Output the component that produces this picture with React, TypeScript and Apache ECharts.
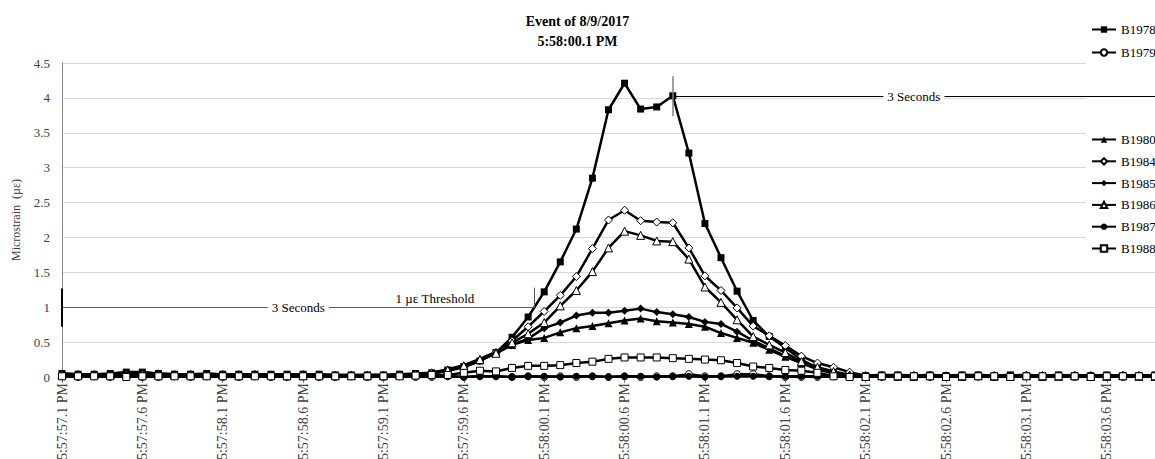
import React, { useEffect, useRef } from 'react';
import * as echarts from 'echarts';

// x positions are sample indices (0.1 s per sample) starting at 5:57:57.1 PM
const tickLabels = [
  '5:57:57.1 PM', '5:57:57.6 PM', '5:57:58.1 PM', '5:57:58.6 PM', '5:57:59.1 PM',
  '5:57:59.6 PM', '5:58:00.1 PM', '5:58:00.6 PM', '5:58:01.1 PM', '5:58:01.6 PM',
  '5:58:02.1 PM', '5:58:02.6 PM', '5:58:03.1 PM', '5:58:03.6 PM',
];
const samplesPerLabel = 5;

const b1978 = [
  0.05, 0.04, 0.04, 0.05, 0.07, 0.07, 0.05, 0.04, 0.04, 0.05, 0.04, 0.04, 0.04, 0.04, 0.04, 0.04, 0.04, 0.03, 0.03, 0.03, 0.03, 0.04, 0.05,
  0.06, 0.10, 0.15, 0.23, 0.35, 0.57, 0.86, 1.22, 1.65, 2.12, 2.85, 3.83, 4.21, 3.84, 3.87, 4.03, 3.21, 2.20, 1.71, 1.23, 0.81, 0.58, 0.42, 0.25, 0.13, 0.06, 0.03,
  0.02, 0.03, 0.03, 0.02, 0.03, 0.02, 0.03, 0.03, 0.02, 0.03, 0.02, 0.02, 0.03, 0.02, 0.02, 0.03, 0.02, 0.02, 0.03,
];
const b1979 = [
  0.01, 0.00, 0.01, 0.00, 0.01, 0.00, 0.00, 0.01, 0.00, 0.01, 0.00, 0.00, 0.01, 0.00, 0.00, 0.01, 0.00, 0.00, 0.01, 0.00, 0.00, 0.01, 0.00,
  0.00, 0.01, 0.00, 0.01, 0.01, 0.00, 0.01, 0.00, 0.01, 0.00, 0.01, 0.00, 0.01, 0.00, 0.01, 0.01, 0.04, 0.01, 0.01, 0.04, 0.04, 0.01, 0.00, 0.00, 0.00, 0.01, 0.00,
  0.01, 0.00, 0.01, 0.00, 0.00, 0.01, 0.00, 0.01, 0.00, 0.00, 0.01, 0.00, 0.01, 0.00, 0.00, 0.01, 0.00, 0.01, 0.00,
];
const b1980 = [
  0.04, 0.04, 0.03, 0.04, 0.05, 0.05, 0.04, 0.03, 0.04, 0.04, 0.03, 0.03, 0.04, 0.03, 0.03, 0.03, 0.03, 0.03, 0.02, 0.03, 0.03, 0.03, 0.04,
  0.06, 0.11, 0.17, 0.26, 0.36, 0.46, 0.53, 0.56, 0.64, 0.70, 0.73, 0.77, 0.81, 0.84, 0.80, 0.78, 0.76, 0.72, 0.63, 0.56, 0.49, 0.39, 0.29, 0.20, 0.12, 0.06, 0.03,
  0.02, 0.02, 0.03, 0.02, 0.02, 0.02, 0.03, 0.02, 0.02, 0.02, 0.03, 0.02, 0.02, 0.02, 0.03, 0.02, 0.02, 0.03, 0.02,
];
const b1984 = [
  0.03, 0.03, 0.03, 0.03, 0.04, 0.04, 0.03, 0.03, 0.03, 0.03, 0.03, 0.03, 0.03, 0.02, 0.03, 0.03, 0.02, 0.02, 0.02, 0.02, 0.02, 0.03, 0.03,
  0.05, 0.09, 0.14, 0.23, 0.35, 0.52, 0.72, 0.94, 1.17, 1.44, 1.84, 2.25, 2.39, 2.24, 2.22, 2.21, 1.85, 1.45, 1.24, 0.99, 0.73, 0.59, 0.45, 0.30, 0.20, 0.14, 0.07,
  0.02, 0.02, 0.01, 0.02, 0.02, 0.01, 0.02, 0.02, 0.02, 0.01, 0.02, 0.02, 0.01, 0.02, 0.02, 0.01, 0.02, 0.02, 0.01,
];
const b1985 = [
  0.05, 0.04, 0.04, 0.04, 0.06, 0.06, 0.05, 0.04, 0.04, 0.04, 0.04, 0.04, 0.04, 0.03, 0.03, 0.04, 0.03, 0.03, 0.03, 0.03, 0.03, 0.03, 0.04,
  0.05, 0.09, 0.15, 0.24, 0.34, 0.46, 0.55, 0.70, 0.78, 0.88, 0.92, 0.92, 0.95, 0.98, 0.93, 0.90, 0.86, 0.79, 0.76, 0.65, 0.52, 0.41, 0.30, 0.20, 0.11, 0.05, 0.03,
  0.02, 0.03, 0.02, 0.02, 0.03, 0.02, 0.02, 0.03, 0.02, 0.02, 0.03, 0.02, 0.02, 0.03, 0.02, 0.02, 0.03, 0.02, 0.02,
];
const b1986 = [
  0.03, 0.03, 0.03, 0.03, 0.04, 0.04, 0.03, 0.03, 0.03, 0.03, 0.03, 0.02, 0.03, 0.03, 0.02, 0.02, 0.03, 0.02, 0.02, 0.02, 0.02, 0.03, 0.04,
  0.06, 0.10, 0.16, 0.25, 0.34, 0.49, 0.62, 0.78, 1.02, 1.24, 1.51, 1.85, 2.09, 2.03, 1.95, 1.94, 1.69, 1.29, 1.07, 0.82, 0.58, 0.46, 0.35, 0.22, 0.14, 0.08, 0.03,
  0.01, 0.02, 0.01, 0.01, 0.02, 0.01, 0.01, 0.02, 0.01, 0.01, 0.02, 0.01, 0.01, 0.02, 0.01, 0.01, 0.02, 0.01, 0.01,
];
const b1987 = [
  0.02, 0.01, 0.01, 0.01, 0.02, 0.01, 0.01, 0.01, 0.01, 0.02, 0.01, 0.01, 0.01, 0.01, 0.01, 0.01, 0.01, 0.01, 0.01, 0.01, 0.01, 0.01, 0.01,
  0.01, 0.01, 0.00, 0.01, 0.01, 0.00, 0.01, 0.01, 0.00, 0.01, 0.01, 0.00, 0.01, 0.01, 0.00, 0.01, 0.01, 0.00, 0.01, 0.01, 0.01, 0.01, 0.01, 0.01, 0.01, 0.01, 0.01,
  0.01, 0.01, 0.01, 0.00, 0.01, 0.01, 0.01, 0.00, 0.01, 0.01, 0.01, 0.00, 0.01, 0.01, 0.01, 0.00, 0.01, 0.01, 0.01,
];
const b1988 = [
  0.01, 0.01, 0.01, 0.01, 0.00, 0.01, 0.01, 0.01, 0.01, 0.01, 0.01, 0.01, 0.01, 0.01, 0.01, 0.01, 0.01, 0.01, 0.01, 0.01, 0.01, 0.01, 0.02,
  0.03, 0.03, 0.06, 0.09, 0.08, 0.13, 0.16, 0.16, 0.17, 0.20, 0.22, 0.26, 0.28, 0.28, 0.28, 0.27, 0.26, 0.25, 0.24, 0.20, 0.15, 0.13, 0.10, 0.09, 0.06, 0.01, 0.00,
  0.00, 0.01, 0.01, 0.01, 0.01, 0.00, 0.01, 0.01, 0.01, 0.00, 0.01, 0.01, 0.01, 0.01, 0.00, 0.01, 0.01, 0.01, 0.01,
];

const seriesNames = ['B1978', 'B1979', 'B1980', 'B1984', 'B1985', 'B1986', 'B1987', 'B1988'];
const seriesValues = [b1978, b1979, b1980, b1984, b1985, b1986, b1987, b1988];
const seriesSymbols = ['rect', 'circle', 'triangle', 'diamond', 'diamond', 'triangle', 'circle', 'rect'];
const seriesHollow = [false, true, false, true, false, true, false, true];

// annotation positions (sample index, microstrain)
const thresholdValue = 1;
const lowerWindow = [0, 29.4];
const upperWindow = [38, 68];
const upperLineValue = 4.02;
const thresholdLabelPos = [23.2, 1.13];

const FONT = "'Liberation Serif', 'Times New Roman', serif";

export default function App() {
  const ref = useRef<HTMLDivElement>(null);

  useEffect(() => {
    if (!ref.current) return;
    const chart = echarts.init(ref.current, undefined, { renderer: 'svg' });
    const lastIndex = b1978.length - 1;
    const tickValues = tickLabels.map((_, i) => i * samplesPerLabel);

    const dataSeries = seriesNames.map((name, i) => ({
      name,
      type: 'line',
      data: seriesValues[i].map((v, k) => [k, v]),
      symbol: seriesSymbols[i],
      symbolSize: seriesSymbols[i] === 'rect' || seriesSymbols[i] === 'circle' ? 7 : 8,
      showAllSymbol: true,
      lineStyle: { color: '#000', width: 2.5 },
      itemStyle: seriesHollow[i]
        ? { color: '#fff', borderColor: '#000', borderWidth: 1 }
        : { color: '#000', borderColor: '#000', borderWidth: 0 },
      emphasis: { disabled: true },
      silent: true,
      z: 2 + i * 0.01,
    }));

    const labelStyle = {
      show: true,
      position: 'insideMiddle',
      formatter: '3 Seconds',
      backgroundColor: '#fff',
      padding: [0, 4],
      color: '#000',
      fontFamily: FONT,
      fontSize: 13,
    };

    const annotations = {
      name: '__annotations',
      type: 'line',
      data: [],
      silent: true,
      markLine: {
        silent: true,
        symbol: ['none', 'none'],
        label: { show: false },
        emphasis: { disabled: true },
        data: [
          [
            { coord: [lowerWindow[0], thresholdValue], lineStyle: { color: '#595959', width: 1, type: 'solid' }, label: labelStyle },
            { coord: [lowerWindow[1], thresholdValue] },
          ],
          [
            { coord: [lowerWindow[0], 0.72], lineStyle: { color: '#000', width: 2, type: 'solid' } },
            { coord: [lowerWindow[0], 1.27] },
          ],
          [
            { coord: [lowerWindow[1], thresholdValue], lineStyle: { color: '#595959', width: 1, type: 'solid' } },
            { coord: [lowerWindow[1], 1.28] },
          ],
          [
            { coord: [upperWindow[0], upperLineValue], lineStyle: { color: '#000', width: 1, type: 'solid' }, label: labelStyle },
            { coord: [upperWindow[1], upperLineValue] },
          ],
          [
            { coord: [upperWindow[0], 3.74], lineStyle: { color: '#808080', width: 1.5, type: 'solid' } },
            { coord: [upperWindow[0], 4.31] },
          ],
        ],
      },
      markPoint: {
        silent: true,
        symbol: 'rect',
        symbolSize: 1,
        itemStyle: { color: 'rgba(0,0,0,0)' },
        label: {
          show: true,
          position: 'inside',
          formatter: '1 µε Threshold',
          color: '#000',
          fontFamily: FONT,
          fontSize: 13,
        },
        data: [{ coord: thresholdLabelPos }],
      },
    };

    const legendCommon = {
      orient: 'vertical',
      left: 1086,
      itemWidth: 24,
      itemHeight: 8,
      backgroundColor: '#fff',
      textStyle: { fontFamily: FONT, fontSize: 13, color: '#000' },
      selectedMode: false,
    };

    chart.setOption({
      animation: false,
      backgroundColor: '#fff',
      title: {
        text: 'Event of 8/9/2017\n5:58:00.1 PM',
        left: 'center',
        top: 6,
        textStyle: { fontFamily: FONT, fontSize: 14, fontWeight: 'bold', color: '#000', lineHeight: 20 },
      },
      legend: [
        { ...legendCommon, top: 13, padding: [10, 2, 40, 5], itemGap: 10, data: seriesNames.slice(0, 2) },
        { ...legendCommon, top: 97, padding: [36, 2, 12, 5], itemGap: 8.8, data: seriesNames.slice(2) },
      ],
      grid: { left: 62, right: 0, top: 63, bottom: 82, containLabel: false, outerBoundsMode: 'none' },
      xAxis: {
        type: 'value',
        min: 0,
        max: lastIndex,
        interval: samplesPerLabel,
        splitLine: { show: false },
        axisLine: { show: true, lineStyle: { color: '#868686', width: 1 } },
        axisTick: { show: true, length: 6, lineStyle: { color: '#868686' }, customValues: tickValues },
        axisLabel: {
          rotate: 90,
          margin: 6,
          fontFamily: FONT,
          fontSize: 14,
          color: '#404040',
          customValues: tickValues,
          formatter: (v: number) => tickLabels[Math.round(v / samplesPerLabel)] ?? '',
        },
      },
      yAxis: {
        type: 'value',
        min: 0,
        max: 4.5,
        interval: 0.5,
        name: 'Microstrain  (µε)',
        nameLocation: 'middle',
        nameGap: 40,
        nameTextStyle: { fontFamily: FONT, fontSize: 12, color: '#404040' },
        axisLine: { show: true, lineStyle: { color: '#868686', width: 1 } },
        axisTick: { show: false },
        splitLine: { show: true, lineStyle: { color: '#d9d9d9', width: 1 } },
        axisLabel: { fontFamily: FONT, fontSize: 13, color: '#404040', margin: 12 },
      },
      series: [...dataSeries, annotations],
    });

    return () => chart.dispose();
  }, []);

  return (
    <div
      ref={ref}
      style={{ position: 'absolute', left: 0, top: 0, width: 1155, height: 459 }}
    />
  );
}
